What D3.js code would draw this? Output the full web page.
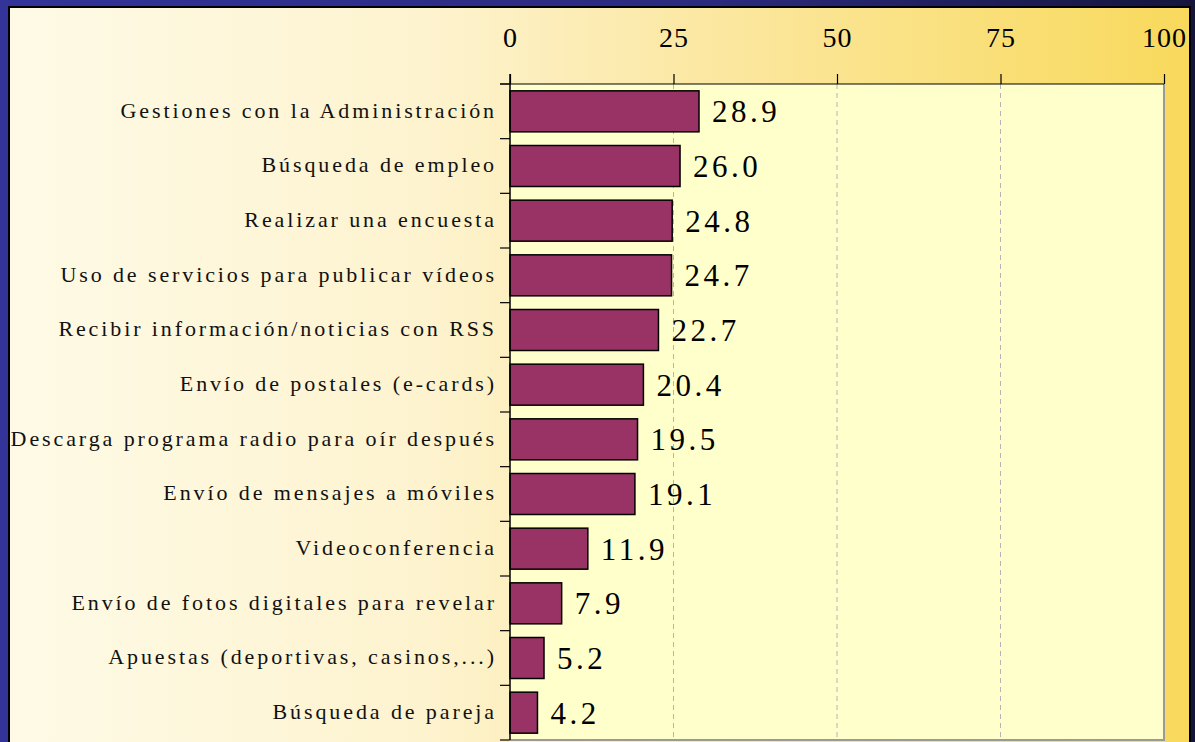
<!DOCTYPE html>
<html><head><meta charset="utf-8">
<script src="https://cdn.jsdelivr.net/npm/d3@7"></script>
<style>html,body{margin:0;padding:0;overflow:hidden;background:#333399}</style>
</head><body>
<script>
const categories = [
  "Gestiones con la Administración",
  "Búsqueda de empleo",
  "Realizar una encuesta",
  "Uso de servicios para publicar vídeos",
  "Recibir información/noticias con RSS",
  "Envío de postales (e-cards)",
  "Descarga programa radio para oír después",
  "Envío de mensajes a móviles",
  "Videoconferencia",
  "Envío de fotos digitales para revelar",
  "Apuestas (deportivas, casinos,...)",
  "Búsqueda de pareja"
];
const values = [28.9, 26.0, 24.8, 24.7, 22.7, 20.4, 19.5, 19.1, 11.9, 7.9, 5.2, 4.2];
const tickValues = [0, 25, 50, 75, 100];
const gridValues = [25, 50, 75];

(function () {
const W = 1195, H = 742;
const svg = d3.select("body").append("svg").attr("width", W).attr("height", H).style("display", "block");
const defs = svg.append("defs");

const outer = defs.append("linearGradient").attr("id", "outerG").attr("x1", "0").attr("x2", "1").attr("y1", "0").attr("y2", "0");
outer.append("stop").attr("offset", "0%").attr("stop-color", "#333399");
outer.append("stop").attr("offset", "60%").attr("stop-color", "#2a2a7e");
outer.append("stop").attr("offset", "100%").attr("stop-color", "#15153c");

const panel = defs.append("linearGradient").attr("id", "panelG").attr("x1", "0").attr("x2", "1").attr("y1", "0").attr("y2", "0");
panel.append("stop").attr("offset", "0%").attr("stop-color", "#fefae6");
panel.append("stop").attr("offset", "35%").attr("stop-color", "#fdf3cf");
panel.append("stop").attr("offset", "60%").attr("stop-color", "#fbe7a0");
panel.append("stop").attr("offset", "100%").attr("stop-color", "#f8d95c");

svg.append("rect").attr("width", W).attr("height", H).attr("fill", "url(#outerG)");
svg.append("rect").attr("x", 9).attr("y", 7).attr("width", 1181).attr("height", H).attr("fill", "url(#panelG)")
  .attr("stroke", "#000").attr("stroke-width", 2);

const pl = 510, pr = 1164, pt = 84, pb = 740;
const x = d3.scaleLinear().domain([0, 100]).range([pl, pr]);
const y = d3.scaleBand().domain(categories).range([pt, pb]).paddingInner(0.25).paddingOuter(0.125);

// plot area
svg.append("rect").attr("x", pl).attr("y", pt).attr("width", pr - pl).attr("height", pb - pt).attr("fill", "#ffffcc");
svg.append("path").attr("d", `M${pr},${pt}V${pb}H${pl}`).attr("fill", "none").attr("stroke", "#9a9a9a").attr("stroke-width", 2);

// grid
svg.append("g").selectAll("line").data(gridValues).join("line")
  .attr("x1", d => x(d)).attr("x2", d => x(d)).attr("y1", pt).attr("y2", pb)
  .attr("stroke", "#b4b4b4").attr("stroke-width", 1).attr("stroke-dasharray", "5,4");

// bars
svg.append("g").selectAll("rect").data(values).join("rect")
  .attr("x", x(0)).attr("y", (d, i) => y(categories[i]))
  .attr("width", d => x(d) - x(0)).attr("height", y.bandwidth())
  .attr("fill", "#993366").attr("stroke", "#000").attr("stroke-width", 1.5);

// value labels
svg.append("g").selectAll("text").data(values).join("text")
  .attr("x", d => x(d) + 13).attr("y", (d, i) => y(categories[i]) + y.bandwidth() / 2)
  .attr("dy", "0.35em")
  .style("font-family", "'Liberation Serif', 'Times New Roman', serif").style("font-size", "31px")
  .style("letter-spacing", "3.5px").attr("fill", "#000")
  .text(d => d.toFixed(1));

// x axis (top)
const xAxis = d3.axisTop(x).tickValues(tickValues).tickSize(10).tickPadding(27).tickSizeOuter(0);
const gx = svg.append("g").attr("transform", `translate(0,${pt})`).call(xAxis);
gx.select(".domain").remove();
gx.selectAll(".tick line").attr("stroke", "#000").attr("stroke-width", 1.2);
gx.selectAll(".tick text").attr("fill", "#000")
  .style("font-family", "'Liberation Serif', 'Times New Roman', serif").style("font-size", "28px")
  .style("letter-spacing", "1px");

// y axis
const yAxis = d3.axisLeft(y).tickSize(0).tickPadding(13);
const gy = svg.append("g").attr("transform", `translate(${pl},0)`).call(yAxis);
gy.select(".domain").remove();
gy.selectAll(".tick text").attr("fill", "#111").attr("dy", "0.28em")
  .style("font-family", "'Liberation Serif', 'Times New Roman', serif").style("font-size", "22px")
  .style("letter-spacing", "2.9px");

// category boundary ticks
const bounds = d3.range(categories.length + 1).map(i => y.range()[0] + i * y.step());
svg.append("g").selectAll("line").data(bounds).join("line")
  .attr("x1", pl - 10).attr("x2", pl).attr("y1", d => d).attr("y2", d => d)
  .attr("stroke", "#000").attr("stroke-width", 1.2);

// top frame line and left axis line
svg.append("line").attr("x1", pl - 10).attr("x2", pr).attr("y1", pt).attr("y2", pt).attr("stroke", "#000").attr("stroke-width", 1.2);
svg.append("line").attr("x1", pl).attr("x2", pl).attr("y1", pt - 10).attr("y2", pb).attr("stroke", "#000").attr("stroke-width", 1.5);
})();
</script>
</body></html>
